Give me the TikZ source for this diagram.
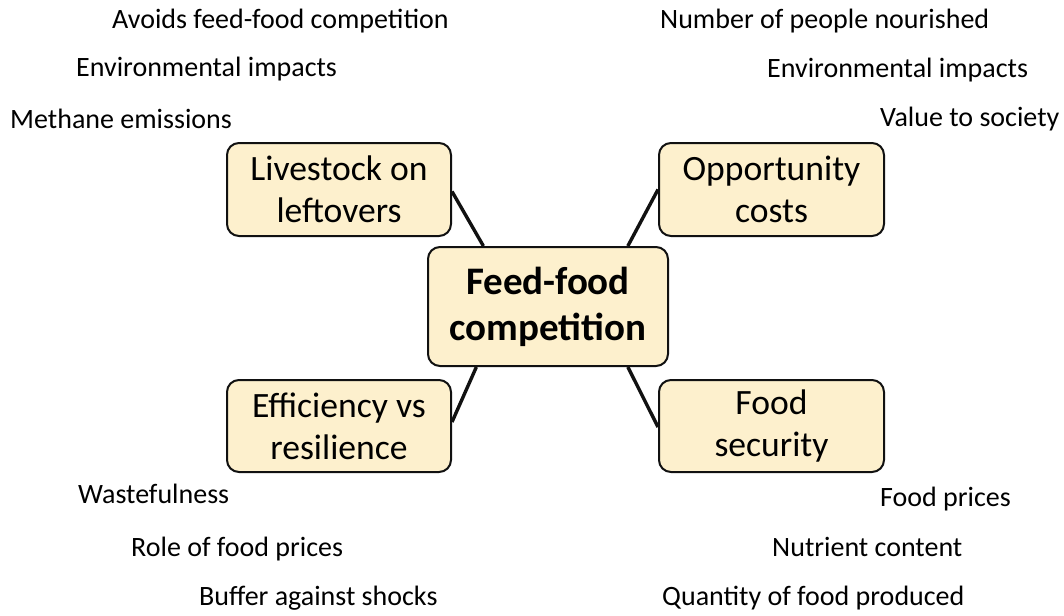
\documentclass[tikz,border=0pt]{standalone}
\usepackage{fontspec}
\setmainfont{Carlito}
\usetikzlibrary{calc}
\definecolor{boxfill}{HTML}{FDF0CD}
\definecolor{ink}{HTML}{111111}
\tikzset{
  topic/.style={draw=ink, line width=2pt, fill=boxfill, rounded corners=12pt,
    align=center, font=\fontsize{35.6}{42}\selectfont, inner sep=0pt},
  hub/.style={topic, font=\bfseries\fontsize{39}{46}\selectfont},
  link/.style={draw=ink, line width=3.4pt},
  aspect/.style={anchor=west, inner sep=0pt, font=\fontsize{28}{33}\selectfont}
}
\begin{document}
\begin{tikzpicture}[x=1pt, y=-1pt]
\useasboundingbox (0,0) rectangle (1064,615);

% central theme
\node[hub, minimum width=240pt, minimum height=119pt] (ctr) at (548,306.5) {Feed-food\\competition};

% four sub-topics
\node[topic, minimum width=224pt, minimum height=93pt] (liv) at (339,189.5) {Livestock on\\leftovers};
\node[topic, minimum width=225pt, minimum height=93pt] (opp) at (771.5,189.5) {Opportunity\\costs};
\node[topic, minimum width=224pt, minimum height=92pt] (eff) at (339,426) {Efficiency vs\\resilience};
\node[topic, minimum width=225pt, minimum height=92pt] (sec) at (771.5,426) {Food\\security};

% connectors to the central theme
\draw[link] ($(liv.east)+(0,2)$) -- ($(ctr.north west)!0.233!(ctr.north east)$);
\draw[link] (opp.west) -- ($(ctr.north west)!0.83!(ctr.north east)$);
\draw[link] ($(eff.east)+(0,-4)$) -- ($(ctr.south west)!0.204!(ctr.south east)$);
\draw[link] ($(sec.west)+(0,1)$) -- ($(ctr.south west)!0.83!(ctr.south east)$);

% aspects of each sub-topic
\node[aspect] (l1) at (112,21) {Avoids feed-food competition};
\node[aspect] (l2) at (76,69) {Environmental impacts};
\node[aspect] (l3) at (10,119) {Methane emissions};

\node[aspect] (o1) at (660,21) {Number of people nourished};
\node[aspect] (o2) at (767,70) {Environmental impacts};
\node[aspect] (o3) at (880,119) {Value to society};

\node[aspect] (e1) at (78,494) {Wastefulness};
\node[aspect] (e2) at (131,549) {Role of food prices};
\node[aspect] (e3) at (199,598) {Buffer against shocks};

\node[aspect] (s1) at (880,499) {Food prices};
\node[aspect] (s2) at (772,547) {Nutrient content};
\node[aspect] (s3) at (662,598) {Quantity of food produced};
\end{tikzpicture}
\end{document}
